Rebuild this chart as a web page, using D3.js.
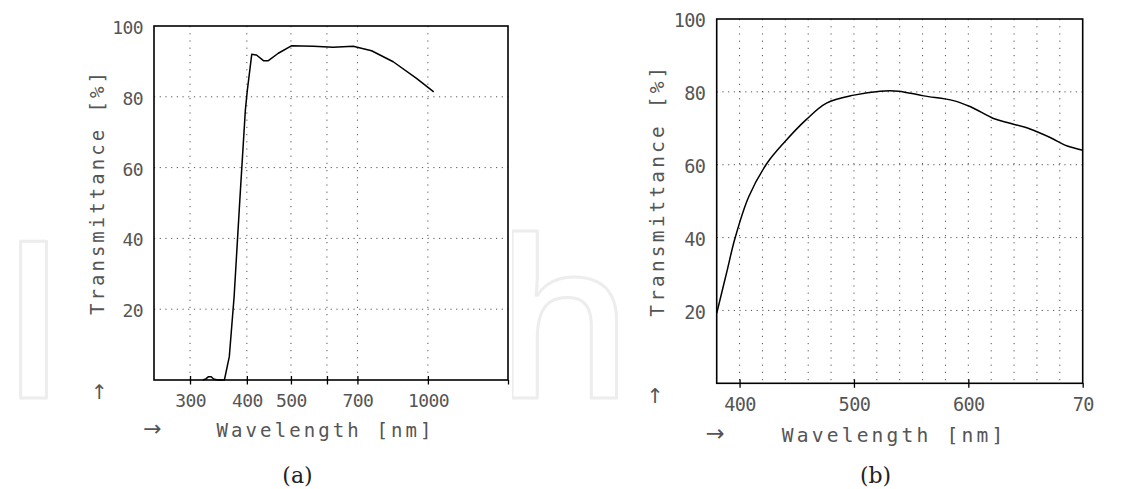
<!DOCTYPE html>
<html>
<head>
<meta charset="utf-8">
<script src="https://cdn.jsdelivr.net/npm/d3@7"></script>
<style>
  html, body { margin: 0; padding: 0; background: #fff; }
  svg { display: block; }
</style>
</head>
<body>
<svg id="chart" width="1145" height="489"></svg>
<script>
// ---------- data ----------
// (a) transmittance of a UV-cut filter (log wavelength axis)
const leftWavelength = [320, 325, 329, 334, 338, 345, 357, 366, 375, 386, 397, 401, 410, 420, 435, 446, 469, 501, 560, 619, 685, 752, 839, 944, 1030];
const leftTransmit   = [0, 0.3, 0.9, 0.9, 0.3, 0, 0, 6.6, 23.5, 50.8, 76.3, 81.9, 92.0, 91.8, 90.2, 90.2, 92.3, 94.4, 94.3, 94.0, 94.3, 93.0, 89.9, 85.2, 81.4];
const leftXTicks      = [300, 400, 500, 600, 700, 1000, 1500];
const leftXTickLabels = ["300", "400", "500", "", "700", "1000", ""];

// (b) transmittance in the visible range (linear axis)
const rightWavelength = [380, 389, 396, 408, 424, 439, 458, 476, 500, 523, 539, 561, 587, 602, 622, 634, 654, 672, 686, 700];
const rightTransmit   = [19.2, 30.8, 39.8, 51.2, 60.4, 66.1, 72.3, 76.9, 79.1, 80.2, 80.2, 78.9, 77.6, 75.9, 72.7, 71.6, 69.8, 67.4, 65.2, 64.0];
const rightXTicks      = [400, 500, 600, 700];
const rightXTickLabels = ["400", "500", "600", "70"];
const rightXGrid       = [400, 420, 440, 460, 480, 500, 520, 540, 560, 580, 600, 620, 640, 660, 680];

const yTicks      = [20, 40, 60, 80, 100];
const yTickLabels = ["20", "40", "60", "80", "100"];
const yGrid       = [20, 40, 60, 80];

const xTitle = "Wavelength [nm]";
const yTitle = "Transmittance [%]";
const captions = ["(a)", "(b)"];
const watermarkLetters = ["I", "h"];

// ---------- drawing ----------
const svg = d3.select("#chart");
const MONO = "'DejaVu Sans Mono', 'Liberation Mono', monospace";
const TXT = "#555";

// faint publisher watermark letters (only the ones left uncovered by the figures)
svg.selectAll(".wm").data(watermarkLetters).join("text")
  .attr("x", (d, i) => [0, 494][i]).attr("y", 398)
  .attr("font-family", "'Open Sans', 'Noto Sans', sans-serif")
  .attr("font-size", 220)
  .attr("font-weight", 600)
  .attr("fill", "#fff")
  .attr("stroke", "#ededed")
  .attr("stroke-width", 3)
  .attr("stroke-linejoin", "round")
  .text(d => d);

// opaque figure backgrounds
svg.append("rect").attr("x", 82).attr("y", 0).attr("width", 430).attr("height", 450).attr("fill", "#fff");
svg.append("rect").attr("x", 644).attr("y", 0).attr("width", 444).attr("height", 450).attr("fill", "#fff");

function drawPanel(cfg) {
  const g = svg.append("g");
  const x = cfg.x, y = cfg.y;
  const [x0, x1] = x.range();
  const [yb, yt] = y.range();
  const s = cfg.scale;

  // dotted grid
  g.selectAll(".vg").data(cfg.xGrid).join("line")
    .attr("x1", d => x(d)).attr("x2", d => x(d))
    .attr("y1", yt).attr("y2", yb)
    .attr("stroke", "#555").attr("stroke-width", 1)
    .attr("stroke-dasharray", "1.2,6");
  g.selectAll(".hg").data(yGrid).join("line")
    .attr("x1", x0).attr("x2", x1)
    .attr("y1", d => y(d)).attr("y2", d => y(d))
    .attr("stroke", "#555").attr("stroke-width", 1)
    .attr("stroke-dasharray", "1.2,4.5");

  // x axis with ticks crossing the baseline
  const xa = g.append("g").attr("transform", `translate(0,${yb})`)
    .call(d3.axisBottom(x).tickValues(cfg.xTicks).tickFormat((d, i) => cfg.xLabels[i]).tickSize(4.5));
  xa.select(".domain").remove();
  xa.selectAll(".tick line").attr("y1", d => d === cfg.xTicks[cfg.xTicks.length - 1] ? 0 : -4)
    .attr("stroke", "#000").attr("stroke-width", 1.3);
  xa.selectAll(".tick text")
    .attr("y", 27.3 * s).attr("dy", null)
    .attr("font-family", MONO).attr("font-size", 18 * s)
    .attr("fill", TXT).attr("letter-spacing", -0.6);

  // y axis labels
  const ya = g.append("g").attr("transform", `translate(${x0},0)`)
    .call(d3.axisLeft(y).tickValues(yTicks).tickFormat((d, i) => yTickLabels[i]).tickSize(0));
  ya.select(".domain").remove();
  ya.selectAll(".tick text")
    .attr("x", -11 * s).attr("dy", null).attr("y", 7.5 * s)
    .attr("font-family", MONO).attr("font-size", 18 * s)
    .attr("fill", TXT).attr("letter-spacing", -0.6);

  // curve
  const line = d3.line().x(d => x(d[0])).y(d => y(d[1])).curve(cfg.curve);
  g.append("path")
    .datum(d3.zip(cfg.wl, cfg.tr))
    .attr("d", line)
    .attr("fill", "none").attr("stroke", "#000").attr("stroke-width", 1.5)
    .attr("stroke-linejoin", "round");

  // frame
  g.append("rect")
    .attr("x", x0).attr("y", yt).attr("width", x1 - x0).attr("height", yb - yt)
    .attr("fill", "none").attr("stroke", "#000").attr("stroke-width", 1.6);

  // axis titles
  g.append("text")
    .attr("x", cfg.xTitleX).attr("y", cfg.xTitleY)
    .attr("text-anchor", "middle")
    .attr("font-family", MONO).attr("font-size", 19 * s).attr("fill", TXT)
    .attr("textLength", cfg.xTitleLen).attr("lengthAdjust", "spacing")
    .text(xTitle);
  g.append("text")
    .attr("transform", `translate(${cfg.yTitleX},${cfg.yTitleY}) rotate(-90)`)
    .attr("text-anchor", "middle")
    .attr("font-family", MONO).attr("font-size", 19 * s).attr("fill", TXT)
    .attr("textLength", cfg.yTitleLen).attr("lengthAdjust", "spacing")
    .text(yTitle);

  // arrows
  g.append("text")
    .attr("x", cfg.upArrow[0]).attr("y", cfg.upArrow[1])
    .attr("text-anchor", "middle")
    .attr("font-family", "'DejaVu Sans', sans-serif").attr("font-size", 20 * s).attr("fill", TXT)
    .text("\u2191");
  g.append("text")
    .attr("x", cfg.rightArrow[0]).attr("y", cfg.rightArrow[1])
    .attr("text-anchor", "middle")
    .attr("font-family", "'DejaVu Sans', sans-serif").attr("font-size", 22 * s).attr("fill", TXT)
    .text("\u2192");

  // caption
  svg.append("text")
    .attr("x", cfg.capX).attr("y", 483)
    .attr("text-anchor", "middle")
    .attr("font-family", "'DejaVu Serif', 'Liberation Serif', serif")
    .attr("font-size", 22).attr("fill", "#222")
    .text(cfg.caption);
}

drawPanel({
  x: d3.scaleLog().domain([250, 1500]).range([154, 508]),
  y: d3.scaleLinear().domain([0, 100]).range([380, 26]),
  scale: 1,
  wl: leftWavelength, tr: leftTransmit,
  xTicks: leftXTicks, xLabels: leftXTickLabels,
  xGrid: leftXTicks.slice(0, 6),
  curve: d3.curveLinear,
  xTitleX: 324, xTitleY: 437, xTitleLen: 215,
  yTitleX: 104, yTitleY: 193.5, yTitleLen: 243,
  upArrow: [99.5, 399], rightArrow: [152.5, 436],
  capX: 297.5, caption: captions[0]
});

drawPanel({
  x: d3.scaleLinear().domain([380, 700]).range([716.7, 1082.7]),
  y: d3.scaleLinear().domain([0, 100]).range([383.3, 19]),
  scale: 1.03,
  wl: rightWavelength, tr: rightTransmit,
  xTicks: rightXTicks, xLabels: rightXTickLabels,
  xGrid: rightXGrid,
  curve: d3.curveCatmullRom.alpha(0.5),
  xTitleX: 892.5, xTitleY: 442, xTitleLen: 221.6,
  yTitleX: 664, yTitleY: 191.7, yTitleLen: 250,
  upArrow: [655, 403], rightArrow: [715, 441],
  capX: 875.5, caption: captions[1]
});
</script>
</body>
</html>
